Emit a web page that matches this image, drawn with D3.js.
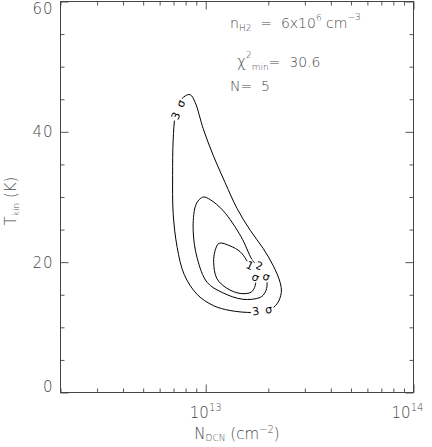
<!DOCTYPE html>
<svg width="432" height="447"></svg>
<script src="https://d3js.org/d3.v7.min.js"></script>

<style>

body { margin: 0; }
svg { display: block; background: #fff; }
text { font-family: "DejaVu Sans", "Liberation Sans", sans-serif; font-weight: 200; fill: #4a4a4a; white-space: pre; }
.tick line { stroke: #555; }
.frame { fill: none; stroke: #444; stroke-width: 1; }
.contour { fill: none; stroke: #000; stroke-width: 1; }
.clabel { fill: #000; font-size: 11px; font-weight: normal; }

</style>

<script>

// column density N_DCN (cm^-2) and kinetic temperature T_kin (K) along each contour
var sigma1 = [
  [1.16e13, 22.9], [1.31e13, 22.5], [1.465e13, 21.6], [1.566e13, 20.4],
  [1.637e13, 19.3], [1.73e13, 17.65], [1.73e13, 16.4], [1.655e13, 15.4],
  [1.465e13, 15.2], [1.264e13, 16.0], [1.131e13, 17.5], [1.092e13, 19.95],
  [1.11e13, 21.8]
];

var sigma2 = [
  [9.78e12, 30.0], [1.05e13, 29.6], [1.213e13, 27.9], [1.48e13, 23.9],
  [1.67e13, 20.4], [1.79e13, 19.2], [1.93e13, 17.65], [1.975e13, 16.6],
  [1.93e13, 15.35], [1.83e13, 14.6], [1.51e13, 14.3], [1.20e13, 15.35],
  [1.016e13, 16.9], [9.10e12, 20.6], [8.70e12, 24.9], [8.90e12, 28.5],
  [9.30e12, 29.6]
];

var sigma3 = [
  [8.42e12, 45.7], [8.90e12, 44.5], [9.72e12, 40.5], [1.086e13, 36.4],
  [1.24e13, 32.2], [1.417e13, 28.2], [1.637e13, 24.9], [1.89e13, 22.1],
  [2.11e13, 19.5], [2.28e13, 16.9], [2.31e13, 15.35], [2.21e13, 13.66],
  [2.00e13, 12.58], [1.69e13, 12.28], [1.31e13, 12.58], [1.086e13, 13.35],
  [9.10e12, 15.04], [7.88e12, 18.1], [7.29e12, 22.25], [6.97e12, 27.5],
  [6.93e12, 33.3], [6.97e12, 38.7], [7.13e12, 42.5], [7.45e12, 44.5],
  [7.96e12, 45.5]
];

// contour labels: level, anchor (N, T), direction along the line
var labelLevel = ["3", "3", "2", "1"];
var labelN = [7.37e12, 1.87e13, 1.879e13, 1.683e13];
var labelT = [43.4, 12.6, 18.6, 18.6];
var labelAngle = [-68, -8, 56, 64];
var glyphAngle = [-68, -8, 20, 25];

var xMajor = [1e13, 1e14];
var xMinor = [2e12, 3e12, 4e12, 5e12, 6e12, 7e12, 8e12, 9e12,
              2e13, 3e13, 4e13, 5e13, 6e13, 7e13, 8e13, 9e13];
var yMajor = [0, 20, 40, 60];
var yMinor = [5, 10, 15, 25, 30, 35, 45, 50, 55];

var svg = d3.select("svg");

var x = d3.scaleLog()
    .domain([2e12, 1e14])
    .range([60.5, 413.5]);

var y = d3.scaleLinear()
    .domain([0, 60])
    .range([392.5, 1.5]);

var x0 = x.range()[0], x1 = x.range()[1],
    y0 = y.range()[0], y1 = y.range()[1];

// ticks, all pointing inward
function ticks(axis, values, size, transform) {
  svg.append("g")
      .attr("transform", transform)
      .call(axis.tickValues(values).tickSize(-size).tickFormat(""))
    .select(".domain").remove();
}

ticks(d3.axisBottom(x), xMinor, 4, "translate(0," + y0 + ")");
ticks(d3.axisBottom(x), xMajor, 8, "translate(0," + y0 + ")");
ticks(d3.axisTop(x), xMinor, 4, "translate(0," + y1 + ")");
ticks(d3.axisTop(x), xMajor, 8, "translate(0," + y1 + ")");
ticks(d3.axisLeft(y), yMinor, 4, "translate(" + x0 + ",0)");
ticks(d3.axisLeft(y), yMajor, 8, "translate(" + x0 + ",0)");
ticks(d3.axisRight(y), yMinor, 4, "translate(" + x1 + ",0)");
ticks(d3.axisRight(y), yMajor, 8, "translate(" + x1 + ",0)");

svg.append("rect")
    .attr("class", "frame")
    .attr("x", x0)
    .attr("y", y1)
    .attr("width", x1 - x0)
    .attr("height", y0 - y1);

// y tick labels
svg.selectAll(".ylab")
    .data(yMajor)
  .enter().append("text")
    .attr("class", "ylab")
    .attr("x", x0 - 7)
    .attr("y", function(d) { return Math.max(8.5, Math.min(y(d), y0 - 6)); })
    .attr("dy", "0.36em")
    .attr("text-anchor", "end")
    .style("font-size", "15px")
    .style("letter-spacing", "1px")
    .text(function(d) { return d; });

// x tick labels, 10^n
var xl = svg.selectAll(".xlab")
    .data(xMajor)
  .enter().append("text")
    .attr("class", "xlab")
    .attr("x", function(d) { return Math.min(x(d), x1 - 6); })
    .attr("y", y0 + 25)
    .attr("text-anchor", "middle")
    .style("font-size", "15px");
xl.append("tspan").text("10");
xl.append("tspan")
    .attr("dy", -7)
    .style("font-size", "10px")
    .text(function(d) { return Math.round(Math.log10(d)); });

// axis titles
var xt = svg.append("text")
    .attr("x", (x0 + x1) / 2)
    .attr("y", y0 + 46)
    .attr("text-anchor", "middle")
    .style("font-size", "15px");
xt.append("tspan").text("N");
xt.append("tspan").attr("dy", 2).style("font-size", "9px").text("DCN");
xt.append("tspan").attr("dy", -2).text(" (cm");
xt.append("tspan").attr("dy", -6).style("font-size", "10px").text("−2");
xt.append("tspan").attr("dy", 6).text(")");

var yt = svg.append("text")
    .attr("transform", "translate(16," + ((y0 + y1) / 2 + 4) + ") rotate(-90)")
    .attr("text-anchor", "middle")
    .style("font-size", "15px");
yt.append("tspan").text("T");
yt.append("tspan").attr("dy", 3).style("font-size", "9px").text("kin");
yt.append("tspan").attr("dy", -3).text(" (K)");

// contours
var line = d3.line()
    .x(function(d) { return x(d[0]); })
    .y(function(d) { return y(d[1]); })
    .curve(d3.curveCatmullRomClosed.alpha(0.5));

[sigma1, sigma2, sigma3].forEach(function(c) {
  svg.append("path")
      .datum(c)
      .attr("class", "contour")
      .attr("d", line);
});

// each label is the level digit and a sigma, spaced along the contour,
// with a white gap cut into the line underneath
labelLevel.forEach(function(lev, i) {
  var cx = x(labelN[i]), cy = y(labelT[i]),
      a = labelAngle[i] * Math.PI / 180, h = 6.5;
  svg.append("rect")
      .attr("transform", "translate(" + cx + "," + cy + ") rotate(" + labelAngle[i] + ")")
      .attr("x", -h - 5)
      .attr("y", -4.5)
      .attr("width", 2 * h + 10)
      .attr("height", 9)
      .attr("fill", "#fff");
  [[lev, -h], ["σ", h]].forEach(function(g) {
    svg.append("text")
        .attr("class", "clabel")
        .attr("transform", "translate(" + (cx + g[1] * Math.cos(a)) + "," + (cy + g[1] * Math.sin(a)) +
              ") rotate(" + glyphAngle[i] + ")")
        .attr("text-anchor", "middle")
        .attr("dy", "0.35em")
        .text(g[0]);
  });
});

// annotations
var a1 = svg.append("text").attr("x", 230).attr("y", 28).style("font-size", "14px");
a1.append("tspan").text("n");
a1.append("tspan").attr("dy", 3).style("font-size", "9px").text("H2");
a1.append("tspan").attr("dy", -3).text("  =  6x10");
a1.append("tspan").attr("dy", -7).style("font-size", "9px").text("6");
a1.append("tspan").attr("dy", 7).text(" cm");
a1.append("tspan").attr("dy", -8).style("font-size", "9px").text("−3");

var a2 = svg.append("text").attr("x", 237).attr("y", 67).style("font-size", "15px");
a2.append("tspan").text("χ");
a2.append("tspan").attr("dy", -9).style("font-size", "9px").text("2");
a2.append("tspan").attr("dy", 12).style("font-size", "9px").text("min");
a2.append("tspan").attr("dy", -3).style("font-size", "14px").text("=  30.6");

svg.append("text")
    .attr("x", 230)
    .attr("y", 91)
    .style("font-size", "14px")
    .text("N=  5");

</script>
